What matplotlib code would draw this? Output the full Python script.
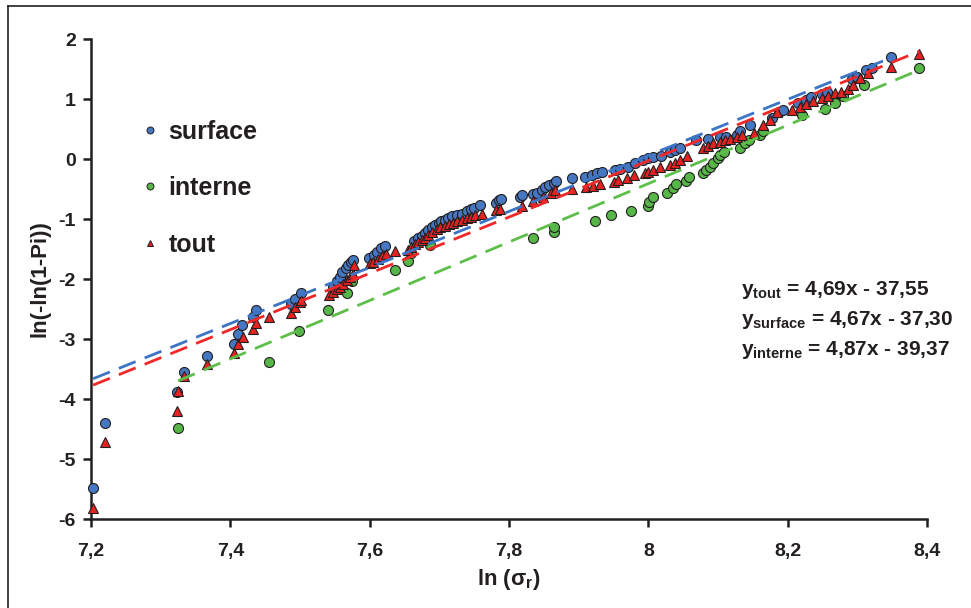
import numpy as np
import matplotlib
matplotlib.use("Agg")
import matplotlib.pyplot as plt
from matplotlib.lines import Line2D

plt.rcParams['font.family'] = ['Liberation Sans', 'DejaVu Sans']
plt.rcParams['font.weight'] = 'bold'
plt.rcParams['axes.unicode_minus'] = False
plt.rcParams['mathtext.fontset'] = 'custom'
plt.rcParams['mathtext.rm'] = 'Liberation Sans:bold'
plt.rcParams['mathtext.bf'] = 'Liberation Sans:bold'
plt.rcParams['mathtext.it'] = 'Liberation Sans:bold'

# data: x = ln(sigma_r), y = ln(-ln(1-Pi))
surface_x = [7.203, 7.220, 7.323, 7.333, 7.367, 7.405, 7.411, 7.417, 7.433, 7.437,
             7.487, 7.493, 7.502, 7.547, 7.553, 7.557, 7.561, 7.566, 7.569, 7.573,
             7.576, 7.599, 7.606, 7.611, 7.616, 7.622, 7.664, 7.670, 7.675, 7.679,
             7.684, 7.689, 7.694, 7.699, 7.703, 7.708, 7.713, 7.718, 7.725, 7.732,
             7.739, 7.745, 7.750, 7.759, 7.782, 7.786, 7.789, 7.816, 7.818, 7.835,
             7.840, 7.847, 7.852, 7.858, 7.864, 7.868, 7.890, 7.909, 7.919, 7.926,
             7.933, 7.952, 7.959, 7.971, 7.981, 7.993, 8.000, 8.007, 8.018, 8.031,
             8.038, 8.045, 8.069, 8.086, 8.103, 8.112, 8.127, 8.132, 8.146, 8.177,
             8.187, 8.194, 8.215, 8.227, 8.234, 8.249, 8.256, 8.292, 8.299, 8.313,
             8.321, 8.349]
surface_y = [-5.48, -4.40, -3.88, -3.55, -3.28, -3.08, -2.92, -2.77, -2.63, -2.52,
             -2.42, -2.33, -2.23, -2.13, -2.04, -1.96, -1.89, -1.81, -1.77, -1.71,
             -1.68, -1.65, -1.60, -1.55, -1.49, -1.45, -1.36, -1.32, -1.28, -1.24,
             -1.18, -1.14, -1.10, -1.07, -1.04, -1.02, -0.99, -0.95, -0.93, -0.91,
             -0.87, -0.84, -0.81, -0.77, -0.73, -0.69, -0.67, -0.63, -0.60, -0.59,
             -0.56, -0.51, -0.47, -0.43, -0.40, -0.36, -0.32, -0.30, -0.27, -0.24,
             -0.21, -0.18, -0.16, -0.13, -0.07, -0.02, 0.01, 0.04, 0.05, 0.12,
             0.15, 0.18, 0.32, 0.33, 0.36, 0.37, 0.40, 0.46, 0.57, 0.68,
             0.79, 0.82, 0.94, 0.98, 1.04, 1.08, 1.12, 1.33, 1.37, 1.48,
             1.51, 1.70]

interne_x = [7.325, 7.455, 7.499, 7.540, 7.567, 7.574, 7.636, 7.655, 7.659, 7.687,
             7.835, 7.864, 7.865, 7.923, 7.947, 7.975, 7.999, 8.001, 8.007, 8.027,
             8.035, 8.040, 8.054, 8.058, 8.079, 8.083, 8.089, 8.093, 8.100, 8.103,
             8.108, 8.132, 8.139, 8.144, 8.161, 8.164, 8.221, 8.254, 8.268, 8.280,
             8.310, 8.389]
interne_y = [-4.49, -3.38, -2.87, -2.51, -2.24, -2.04, -1.85, -1.70, -1.56, -1.43,
             -1.32, -1.21, -1.13, -1.03, -0.94, -0.86, -0.78, -0.71, -0.63, -0.57,
             -0.49, -0.42, -0.37, -0.30, -0.24, -0.18, -0.13, -0.07, 0.01, 0.07,
             0.12, 0.19, 0.26, 0.32, 0.40, 0.46, 0.74, 0.83, 0.94, 1.05,
             1.23, 1.51]

tout_x = [7.203, 7.220, 7.324, 7.325, 7.334, 7.367, 7.405, 7.411, 7.418, 7.433,
          7.437, 7.455, 7.487, 7.493, 7.500, 7.502, 7.541, 7.548, 7.553, 7.557,
          7.562, 7.567, 7.572, 7.576, 7.577, 7.600, 7.605, 7.612, 7.617, 7.623,
          7.636, 7.655, 7.660, 7.665, 7.670, 7.675, 7.679, 7.684, 7.689, 7.696,
          7.701, 7.708, 7.714, 7.720, 7.726, 7.733, 7.739, 7.745, 7.751, 7.761,
          7.782, 7.787, 7.818, 7.835, 7.849, 7.861, 7.866, 7.890, 7.911, 7.921,
          7.931, 7.950, 7.957, 7.969, 7.979, 7.995, 8.000, 8.007, 8.017, 8.031,
          8.038, 8.045, 8.055, 8.079, 8.086, 8.093, 8.103, 8.110, 8.117, 8.127,
          8.134, 8.151, 8.165, 8.175, 8.184, 8.206, 8.218, 8.227, 8.237, 8.249,
          8.258, 8.268, 8.277, 8.287, 8.294, 8.304, 8.316, 8.349, 8.389]
tout_y = [-5.82, -4.71, -4.20, -3.86, -3.62, -3.41, -3.23, -3.08, -2.96, -2.84,
          -2.74, -2.64, -2.56, -2.47, -2.38, -2.35, -2.27, -2.22, -2.16, -2.13,
          -2.08, -2.02, -1.96, -1.91, -1.77, -1.74, -1.71, -1.66, -1.62, -1.58,
          -1.54, -1.51, -1.46, -1.42, -1.38, -1.35, -1.31, -1.27, -1.21, -1.17,
          -1.14, -1.12, -1.08, -1.06, -1.03, -1.01, -0.99, -0.96, -0.94, -0.92,
          -0.85, -0.83, -0.79, -0.70, -0.63, -0.57, -0.52, -0.50, -0.47, -0.45,
          -0.41, -0.38, -0.35, -0.32, -0.27, -0.24, -0.21, -0.18, -0.13, -0.10,
          -0.06, -0.02, 0.05, 0.18, 0.22, 0.26, 0.29, 0.31, 0.34, 0.37,
          0.40, 0.43, 0.57, 0.65, 0.79, 0.82, 0.86, 0.92, 0.96, 1.01,
          1.05, 1.10, 1.12, 1.16, 1.23, 1.35, 1.44, 1.53, 1.75]

# fitted lines (slope, intercept)
fit_tout = (4.69, -37.55)
fit_surface = (4.67, -37.30)
fit_interne = (4.87, -39.37)

x_ticks = [7.2, 7.4, 7.6, 7.8, 8.0, 8.2, 8.4]
x_ticklabels = ['7,2', '7,4', '7,6', '7,8', '8', '8,2', '8,4']
y_ticks = [-6, -5, -4, -3, -2, -1, 0, 1, 2]

c_blue = '#4677C2'
c_green = '#56B748'
c_red = '#E42222'
c_blue_line = '#3C74C6'
c_green_line = '#5DBE4A'
c_red_line = '#F02828'
c_axis = '#231F20'

fig = plt.figure(figsize=(9.71, 6.08), dpi=100)
ax = fig.add_axes([91 / 971, 1 - 519 / 608, 836 / 971, 480 / 608])

ax.plot(surface_x, surface_y, 'o', ms=7.2, mfc=c_blue, mec=c_axis, mew=0.8,
        clip_on=False, zorder=3, label='surface')
ax.plot(interne_x, interne_y, 'o', ms=7.2, mfc=c_green, mec=c_axis, mew=0.8,
        clip_on=False, zorder=3, label='interne')
ax.plot(tout_x, tout_y, '^', ms=7.4, mfc=c_red, mec=c_axis, mew=0.8,
        clip_on=False, zorder=4, label='tout')

# trend lines over the range of each series
for xs, fit, col in [(surface_x, fit_surface, c_blue_line),
                     (tout_x, fit_tout, c_red_line),
                     (interne_x, fit_interne, c_green_line)]:
    xl = np.array([min(xs), max(xs)])
    ax.plot(xl, fit[0] * xl + fit[1], color=col, lw=2.0, dashes=(6.5, 3.5),
            zorder=5)

ax.set_xlim(7.2, 8.4)
ax.set_ylim(-6, 2)
ax.set_xticks(x_ticks)
ax.set_xticklabels(x_ticklabels)
ax.set_yticks(y_ticks)

for s in ['top', 'right']:
    ax.spines[s].set_visible(False)
for s in ['left', 'bottom']:
    ax.spines[s].set_linewidth(1.8)
    ax.spines[s].set_color(c_axis)
ax.tick_params(direction='out', length=6, width=1.8, color=c_axis,
               labelsize=14, labelcolor=c_axis)
ax.tick_params(axis='x', pad=11)
ax.tick_params(axis='y', pad=5)
for lab in ax.get_xticklabels() + ax.get_yticklabels():
    lab.set_fontweight('bold')

ax.set_ylabel('ln(-ln(1-Pi))', fontsize=16, fontweight='bold', color=c_axis,
              labelpad=6)
ax.set_xlabel(r'ln ($\mathrm{\sigma}_{\mathrm{r}}$)', fontsize=16,
              fontweight='bold', color=c_axis, labelpad=5)

# legend with small markers
handles = [Line2D([], [], ls='', marker='o', ms=5, mfc=c_blue, mec=c_axis, mew=0.7),
           Line2D([], [], ls='', marker='o', ms=5, mfc=c_green, mec=c_axis, mew=0.7),
           Line2D([], [], ls='', marker='^', ms=5, mfc=c_red, mec=c_axis, mew=0.7)]
leg = ax.legend(handles, ['surface', 'interne', 'tout'], loc='upper left',
                bbox_to_anchor=(0.051, 0.853), frameon=False, fontsize=18,
                handlelength=0.5, handletextpad=0.5, labelspacing=1.3,
                borderaxespad=0)
for t in leg.get_texts():
    t.set_fontweight('bold')
    t.set_color(c_axis)

eqs = [(r'$\mathrm{y}_{\mathrm{tout}}$ = 4,69x - 37,55', 0.477),
       (r'$\mathrm{y}_{\mathrm{surface}}$ = 4,67x - 37,30', 0.415),
       (r'$\mathrm{y}_{\mathrm{interne}}$ = 4,87x - 39,37', 0.352)]
for txt, yy in eqs:
    ax.text(0.778, yy, txt, transform=ax.transAxes, fontsize=15,
            fontweight='bold', color=c_axis, va='center', ha='left')

# chart border (left and top visible)
fig.add_artist(Line2D([8 / 971, 8 / 971], [0, 1 - 6 / 608], color=c_axis, lw=1.2))
fig.add_artist(Line2D([8 / 971, 1], [1 - 6 / 608, 1 - 6 / 608], color=c_axis, lw=1.2))

fig.savefig('out.png', dpi=100)
